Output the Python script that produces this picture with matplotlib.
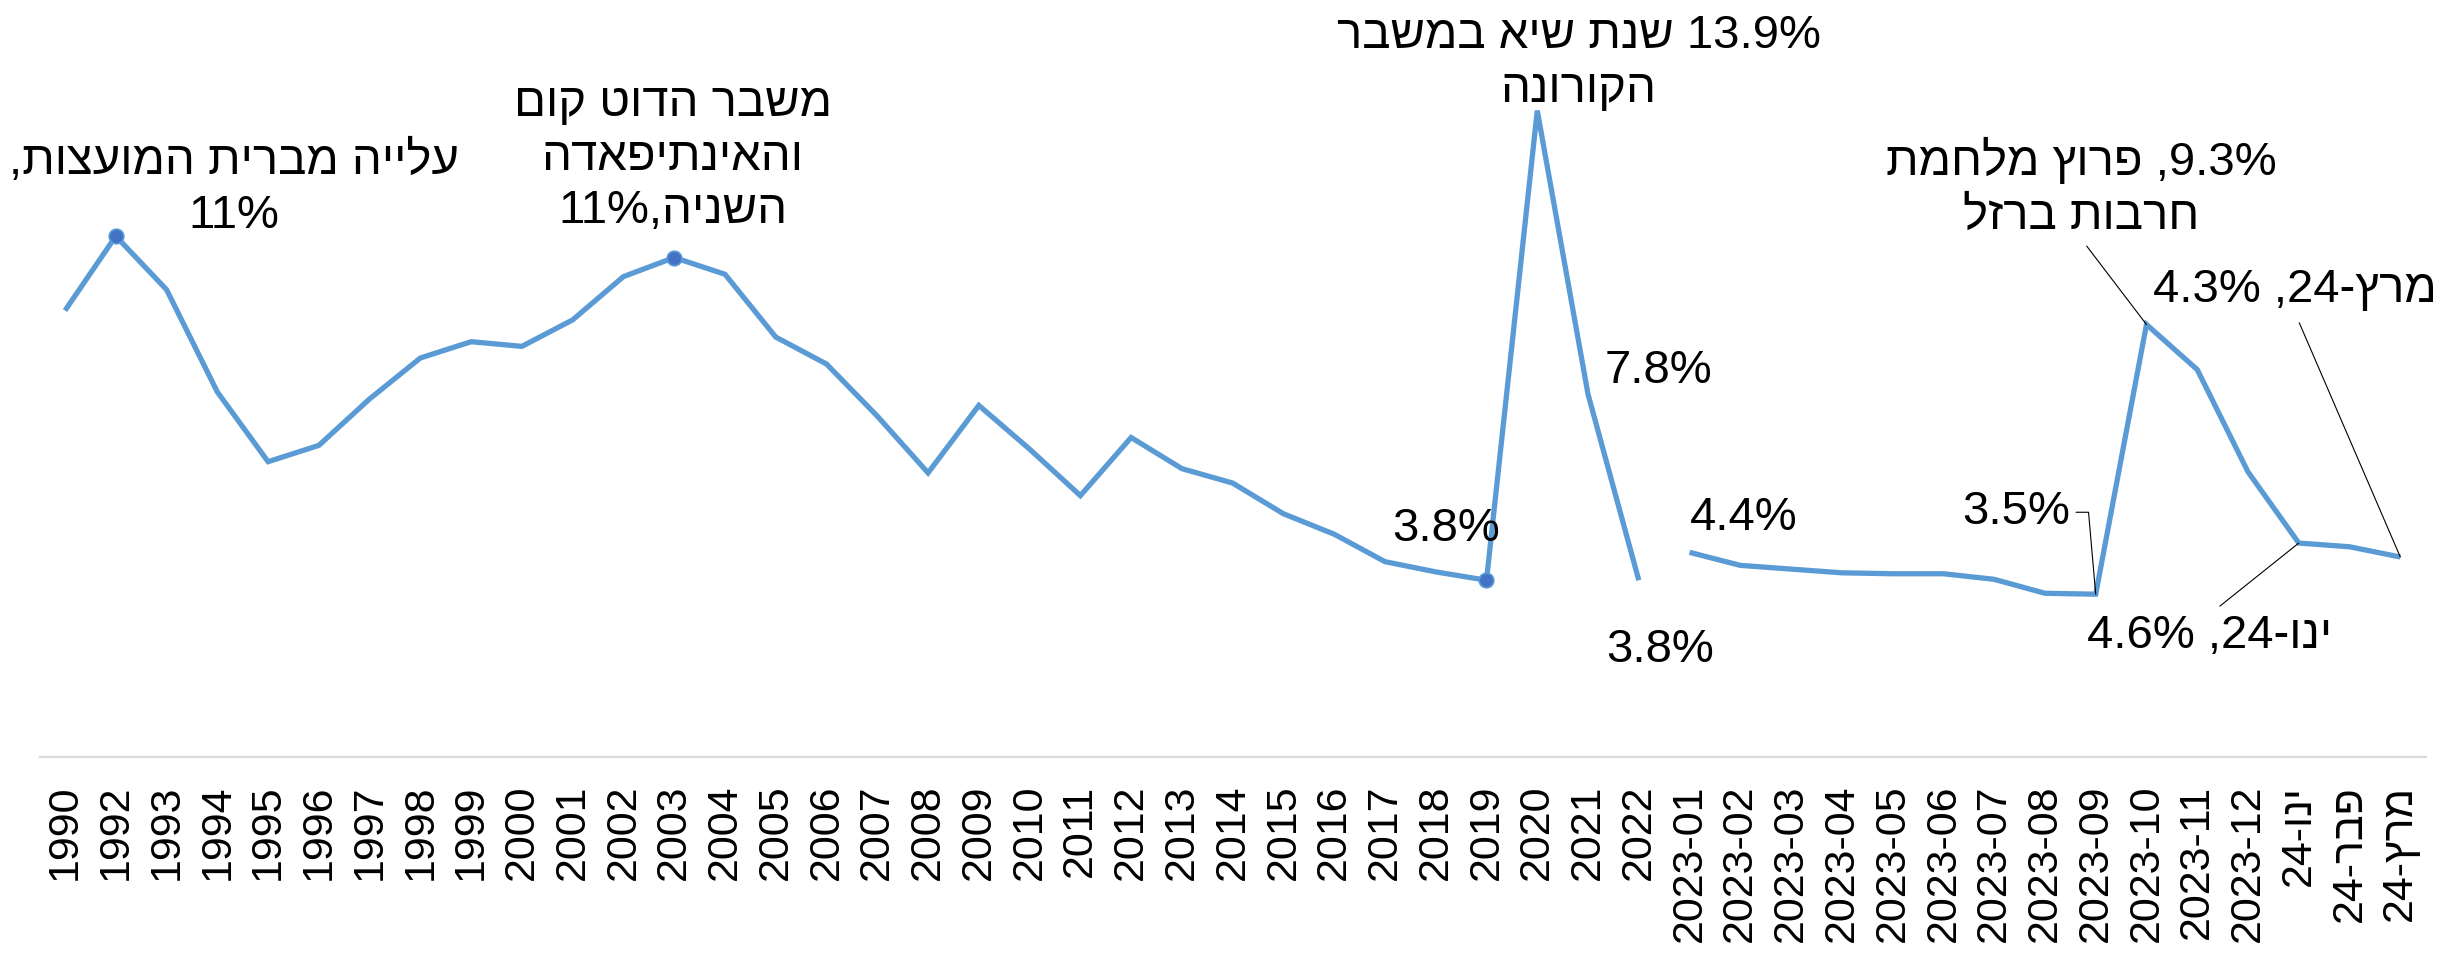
import matplotlib
matplotlib.use("Agg")
import matplotlib.pyplot as plt
import numpy as np

# ---------------- data ----------------
annual_labels = ["1990"] + [str(y) for y in range(1992, 2023)]
annual_values = [9.6, 11.2, 10.05, 7.85, 6.35, 6.7, 7.7, 8.58, 8.93, 8.83,
                 9.4, 10.33, 10.74, 10.38, 9.03, 8.45, 7.33, 6.11, 7.56, 6.62,
                 5.62, 6.87, 6.2, 5.89, 5.23, 4.79, 4.2, 3.98, 3.8, 13.9,
                 7.8, 3.8]
monthly_labels = ["2023-%02d" % m for m in range(1, 13)] + [
    "24-" + "ינו"[::-1], "24-" + "פבר"[::-1], "24-" + "מרץ"[::-1]]
monthly_values = [4.4, 4.12, 4.04, 3.96, 3.94, 3.94, 3.82, 3.52, 3.5, 9.3,
                  8.33, 6.13, 4.6, 4.52, 4.3]
marker_years = ["1992", "2003", "2019"]

def rev(s):
    return s[::-1]

ann_family = ["Liberation Sans", "DejaVu Sans"]
tick_family = ["Liberation Sans", "DejaVu Sans"]

LINE = "#5B9BD5"
DOT = "#4472C4"

fig = plt.figure(figsize=(24.46, 9.66), dpi=100)
ax = fig.add_axes([0.0162, 0.2164, 0.9755, 0.7702])

cats = annual_labels + monthly_labels
x_all = np.arange(len(cats))
xa = x_all[:len(annual_values)]
xm = x_all[len(annual_values):]

ax.plot(xa, annual_values, color=LINE, lw=3.8, solid_joinstyle="miter", solid_capstyle="butt")
ax.plot(xm, monthly_values, color=LINE, lw=3.8, solid_joinstyle="miter", solid_capstyle="butt")

mi = [annual_labels.index(y) for y in marker_years]
ax.plot(xa[mi], [annual_values[i] for i in mi], "o", color=DOT, ms=10.5, mec=LINE, mew=1.2)

ax.set_xlim(-0.5, len(cats) - 0.5)
ax.set_ylim(0, 16)
ax.set_xticks(x_all)
ax.set_xticklabels(cats, rotation=90, fontsize=31, family=tick_family)
ax.tick_params(axis="x", length=0, pad=20)
ax.set_yticks([])
for s in ["top", "left", "right"]:
    ax.spines[s].set_visible(False)
ax.spines["bottom"].set_color("#D9D9D9")
ax.spines["bottom"].set_linewidth(1.6)

FS = 34

def ann(idx, val, text, dx, dy, arrow=None):
    kw = dict(textcoords="offset points", ha="center", va="center",
              multialignment="center", fontsize=FS, family=ann_family,
              linespacing=1.29, color="black")
    if arrow is not None:
        kw["arrowprops"] = arrow
    ax.annotate(text, xy=(idx, val), xytext=(dx, dy), **kw)

ia = {k: i for i, k in enumerate(annual_labels)}
im = {k: i + len(annual_values) for i, k in enumerate(monthly_labels)}
av = dict(zip(annual_labels, annual_values))
mv = dict(zip(monthly_labels, monthly_values))

ann(ia["1992"], av["1992"], rev("עלייה מברית המועצות,") + "\n%d%%" % round(av["1992"]), 85, 34)
ann(ia["2003"], av["2003"], rev("משבר הדוט קום") + "\n" + rev("והאינתיפאדה") + "\n%d%%," % round(av["2003"]) + rev("השניה"), -1, 72)
ann(ia["2020"], av["2020"], rev("שנת שיא במשבר") + " %.1f%%" % av["2020"] + "\n" + rev("הקורונה"), 30, 34)
ann(ia["2021"], av["2021"], "%.1f%%" % av["2021"], 51, 17)
ann(ia["2019"], av["2019"], "%.1f%%" % av["2019"], -29, 37)
ann(ia["2022"], av["2022"], "%.1f%%" % av["2022"], 15, -50)

k = "2023-01"
ann(im[k], mv[k], "%.1f%%" % mv[k], 39, 25)
k = "2023-09"
ann(im[k], mv[k], "%.1f%%" % mv[k], -57, 59,
    arrow=dict(arrowstyle="-", color="black", lw=0.8, shrinkA=2, shrinkB=0,
               relpos=(1.0, 0.5), connectionstyle="angle,angleA=0,angleB=95,rad=0"))
k = "2023-10"
ann(im[k], mv[k], rev("פרוץ מלחמת") + " ,%.1f%%" % mv[k] + "\n" + rev("חרבות ברזל"), -47, 98,
    arrow=dict(arrowstyle="-", color="black", lw=0.8, shrinkA=4, shrinkB=0,
               relpos=(0.5, 0.0)))
k = monthly_labels[12]
ann(im[k], mv[k], "%.1f%% ," % mv[k] + "24-" + rev("ינו"), -64, -67,
    arrow=dict(arrowstyle="-", color="black", lw=0.8, shrinkA=6, shrinkB=0,
               relpos=(0.5, 1.0)))
k = monthly_labels[14]
ann(im[k], mv[k], "%.1f%% ," % mv[k] + "24-" + rev("מרץ"), -76, 192,
    arrow=dict(arrowstyle="-", color="black", lw=0.8, shrinkA=6, shrinkB=0,
               relpos=(0.5, 0.0)))

fig.savefig("out.png", dpi=100)
